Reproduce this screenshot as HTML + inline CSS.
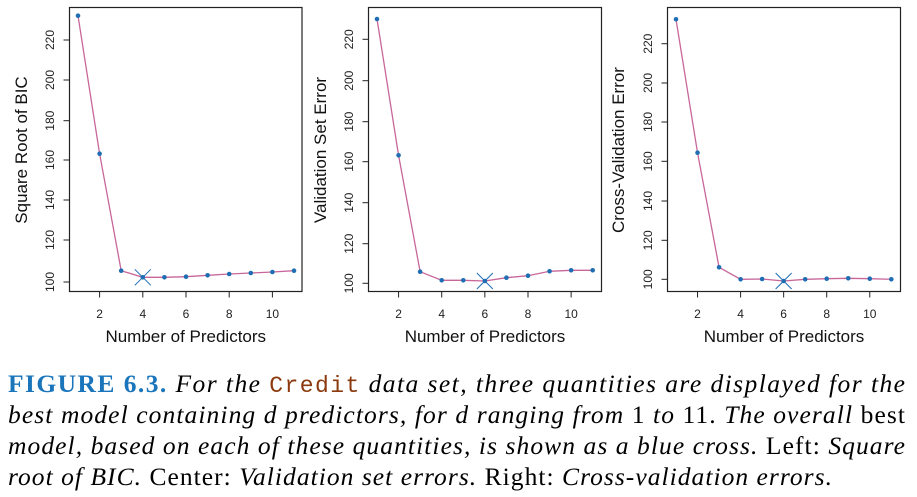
<!DOCTYPE html>
<html><head><meta charset="utf-8"><style>
html,body{margin:0;padding:0;background:#fff;}
svg{display:block;}
</style></head><body>
<svg id="s" width="917" height="497" xmlns="http://www.w3.org/2000/svg">
<g font-family="Liberation Serif, serif" font-size="25.5">
<text x="8" y="392" textLength="897" lengthAdjust="spacing"><tspan fill="#1a75bb" font-weight="bold">FIGURE 6.3.</tspan><tspan font-style="italic"> For the </tspan><tspan fill="#8b3a0e" font-family="Liberation Mono, monospace" font-size="23">Credit</tspan><tspan font-style="italic"> data set, three quantities are displayed for the</tspan></text>
<text x="8" y="423" textLength="897" lengthAdjust="spacing"><tspan font-style="italic">best model containing d predictors, for d ranging from </tspan>1<tspan font-style="italic"> to </tspan>11. <tspan font-style="italic">The overall</tspan> best</text>
<text x="8" y="454" textLength="897" lengthAdjust="spacing"><tspan font-style="italic">model, based on each of these quantities, is shown as a blue cross.</tspan> Left: <tspan font-style="italic">Square</tspan></text>
<text x="8" y="485" textLength="824" lengthAdjust="spacing"><tspan font-style="italic">root of BIC.</tspan> Center: <tspan font-style="italic">Validation set errors.</tspan> Right: <tspan font-style="italic">Cross-validation errors.</tspan></text>
</g>
</svg>
<script>
var s=document.getElementById('s'),NS='http://www.w3.org/2000/svg';
function el(t,a,txt){var e=document.createElementNS(NS,t);for(var k in a)e.setAttribute(k,a[k]);if(txt!=null)e.textContent=txt;s.appendChild(e);return e;}
var P=[
 {L:69.5,R:302,x1:78,x11:294,ys:[282,240,200,160,120.7,80,40],yl:21,tl:50,best:4,
  p:[15.7,153.7,270.7,277.3,277.3,276.7,275.3,274,273,272,270.7],lab:"Square Root of BIC"},
 {L:368.5,R:601.5,x1:377,x11:592.7,ys:[283.3,243.7,202.7,161.7,121.7,80.7,39.3],yl:320,tl:349,best:6,
  p:[19,155.3,271.7,280.3,280.3,281,277.7,275.7,271.3,270.3,270.3],lab:"Validation Set Error"},
 {L:667.5,R:900.5,x1:676,x11:891.3,ys:[279.3,240.3,201,161.3,122,83,43.7],yl:618,tl:648,best:6,
  p:[19.3,152.7,267.3,279.3,279,281,279.3,278.7,278.3,278.7,279.3],lab:"Cross-Validation Error"}];
P.forEach(function(c){
 var T=7.5,B=291.5,ff="Liberation Sans, sans-serif";
 el('rect',{x:c.L,y:T,width:c.R-c.L,height:B-T,fill:'none',stroke:'#222','stroke-width':1.2});
 var xs=function(i){return c.x1+(c.x11-c.x1)*(i-1)/10;};
 [2,4,6,8,10].forEach(function(v){var x=xs(v);
  el('line',{x1:x,x2:x,y1:B,y2:B+6,stroke:'#222','stroke-width':1});
  el('text',{x:x,y:318,'font-family':ff,'font-size':12,'text-anchor':'middle',fill:'#222'},v);});
 [100,120,140,160,180,200,220].forEach(function(v,i){var y=c.ys[i];
  el('line',{x1:c.L-6,x2:c.L,y1:y,y2:y,stroke:'#222','stroke-width':1});
  el('text',{x:0,y:0,'font-family':ff,'font-size':12,'text-anchor':'middle',fill:'#222',transform:'translate('+(c.tl+4)+','+y+') rotate(-90)'},v);});
 el('text',{x:0,y:0,'font-family':ff,'font-size':17,'text-anchor':'middle',fill:'#111',transform:'translate('+(c.yl+6)+',150) rotate(-90)'},c.lab);
 el('text',{x:(c.L+c.R)/2,y:342,'font-family':ff,'font-size':17,'text-anchor':'middle',fill:'#111'},'Number of Predictors');
 var d=c.p.map(function(y,i){return xs(i+1)+','+y;}).join(' ');
 el('polyline',{points:d,fill:'none',stroke:'#c8669a','stroke-width':1.3});
 c.p.forEach(function(y,i){el('circle',{cx:xs(i+1),cy:y,r:2.3,fill:'#1f6eb4'});});
 var bx=xs(c.best),by=c.p[c.best-1],r=8;
 el('path',{d:'M'+(bx-r)+','+(by-r)+'L'+(bx+r)+','+(by+r)+'M'+(bx-r)+','+(by+r)+'L'+(bx+r)+','+(by-r),stroke:'#1f6eb4','stroke-width':1,fill:'none'});
});
</script>
</body></html>
